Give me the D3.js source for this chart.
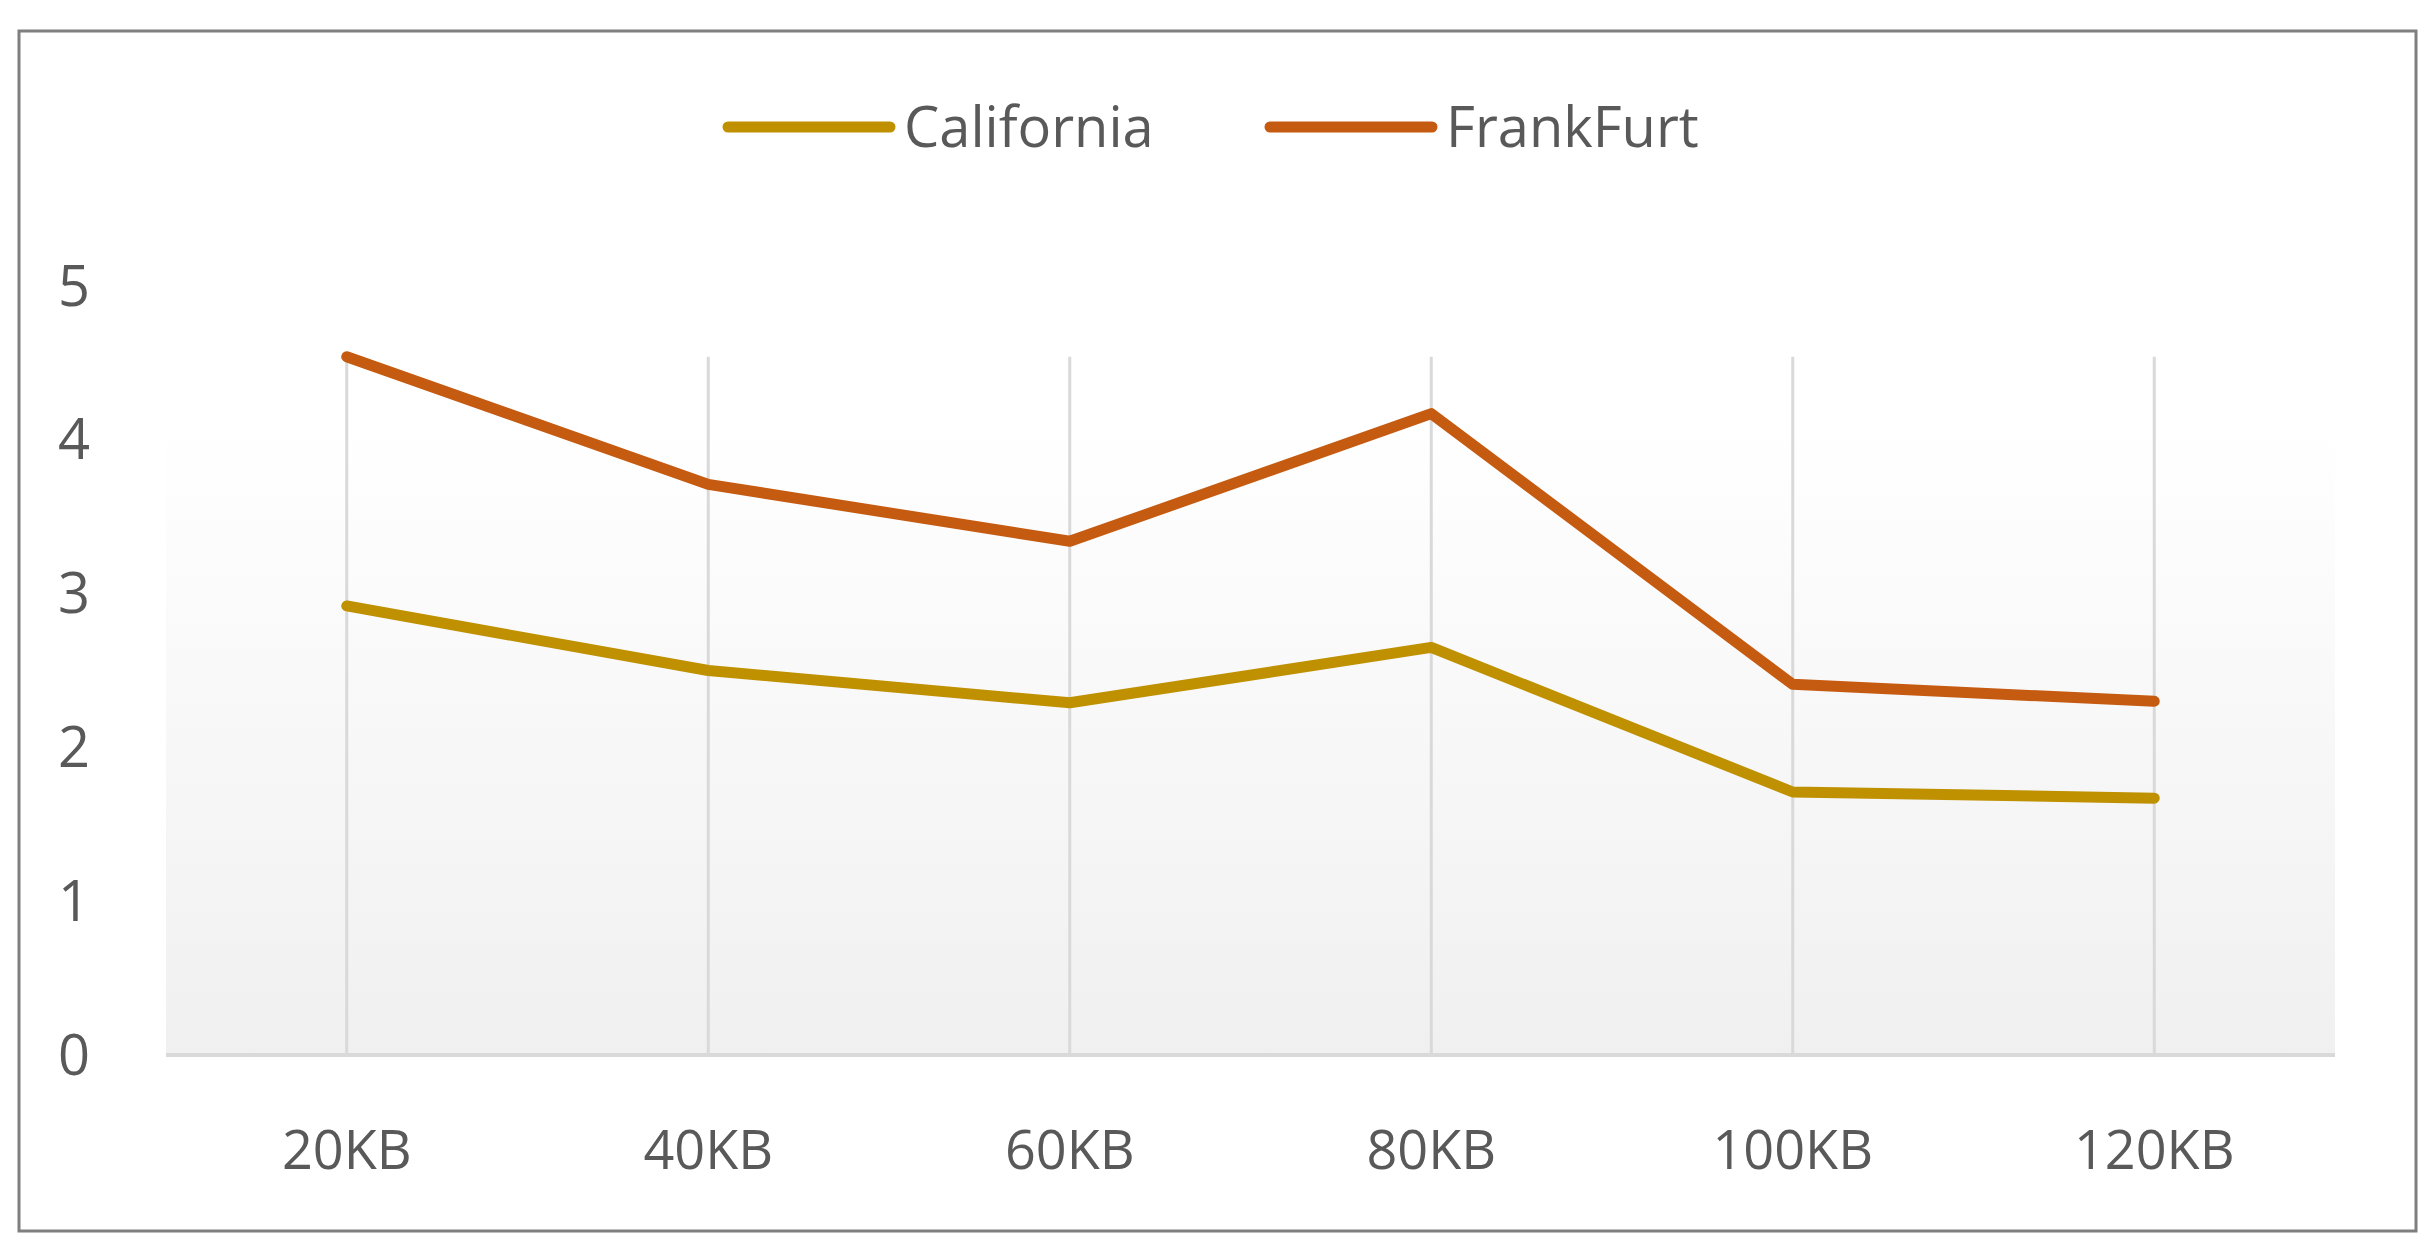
<!DOCTYPE html>
<html>
<head>
<meta charset="utf-8">
<script src="https://d3js.org/d3.v7.min.js"></script>
<style>
  body { margin: 0; background: #fff; }
  text { font-family: "Open Sans", sans-serif; fill: #595959; }
</style>
</head>
<body>
<svg id="chart" width="2428" height="1252"></svg>
<script>
var categories = ["20KB", "40KB", "60KB", "80KB", "100KB", "120KB"];
var california = [2.92, 2.50, 2.29, 2.65, 1.71, 1.67];
var frankfurt = [4.54, 3.71, 3.34, 4.17, 2.41, 2.30];
var yTicks = [0, 1, 2, 3, 4, 5];

var series = [
    { name: "California", values: california, color: "#BF9000" },
    { name: "FrankFurt", values: frankfurt, color: "#C55A11" }
];

var svg = d3.select("#chart");

svg.append("rect")
    .attr("x", 19).attr("y", 31).attr("width", 2397).attr("height", 1200)
    .attr("fill", "#fff").attr("stroke", "#7f7f7f").attr("stroke-width", 3);

var plotLeft = 166, plotRight = 2335, plotTop = 286, plotBottom = 1055;

var x = d3.scalePoint().domain(categories).range([plotLeft, plotRight]).padding(0.5);
var y = d3.scaleLinear().domain([0, 5]).range([plotBottom, plotTop]);

var defs = svg.append("defs");
var grad = defs.append("linearGradient").attr("id", "bg")
    .attr("x1", 0).attr("y1", 0).attr("x2", 0).attr("y2", 1);
grad.append("stop").attr("offset", "0%").attr("stop-color", "#ffffff");
grad.append("stop").attr("offset", "100%").attr("stop-color", "#f0f0f0");

svg.append("rect")
    .attr("x", plotLeft).attr("y", y(4.1)).attr("width", plotRight - plotLeft)
    .attr("height", plotBottom - y(4.1)).attr("fill", "url(#bg)");

// vertical gridlines
svg.selectAll(".grid").data(categories).enter().append("line")
    .attr("x1", d => x(d)).attr("x2", d => x(d))
    .attr("y1", y(4.54)).attr("y2", plotBottom)
    .attr("stroke", "#d9d9d9").attr("stroke-width", 3);

// x axis line
svg.append("line")
    .attr("x1", plotLeft).attr("x2", plotRight).attr("y1", plotBottom).attr("y2", plotBottom)
    .attr("stroke", "#d9d9d9").attr("stroke-width", 4);

svg.selectAll(".ylab").data(yTicks).enter().append("text")
    .attr("x", 74).attr("y", d => y(d)).attr("dy", "0.35em")
    .attr("text-anchor", "middle").attr("font-size", 56)
    .text(d => d);

svg.selectAll(".xlab").data(categories).enter().append("text")
    .attr("x", d => x(d)).attr("y", 1150).attr("dy", "0.35em")
    .attr("text-anchor", "middle").attr("font-size", 54)
    .text(d => d);

var line = d3.line()
    .x((d, i) => x(categories[i]))
    .y(d => y(d));

series.forEach(function (s) {
    svg.append("path")
        .attr("d", line(s.values))
        .attr("fill", "none").attr("stroke", s.color)
        .attr("stroke-width", 11).attr("stroke-linejoin", "round")
        .attr("stroke-linecap", "round");
});

var legendX = [728, 1270];
series.forEach(function (s, i) {
    svg.append("line")
        .attr("x1", legendX[i]).attr("x2", legendX[i] + 162)
        .attr("y1", 127).attr("y2", 127)
        .attr("stroke", s.color).attr("stroke-width", 11)
        .attr("stroke-linecap", "round");
    svg.append("text")
        .attr("x", legendX[i] + 176).attr("y", 127).attr("dy", "0.35em")
        .attr("font-size", 56)
        .text(s.name);
});
</script>
</body>
</html>
